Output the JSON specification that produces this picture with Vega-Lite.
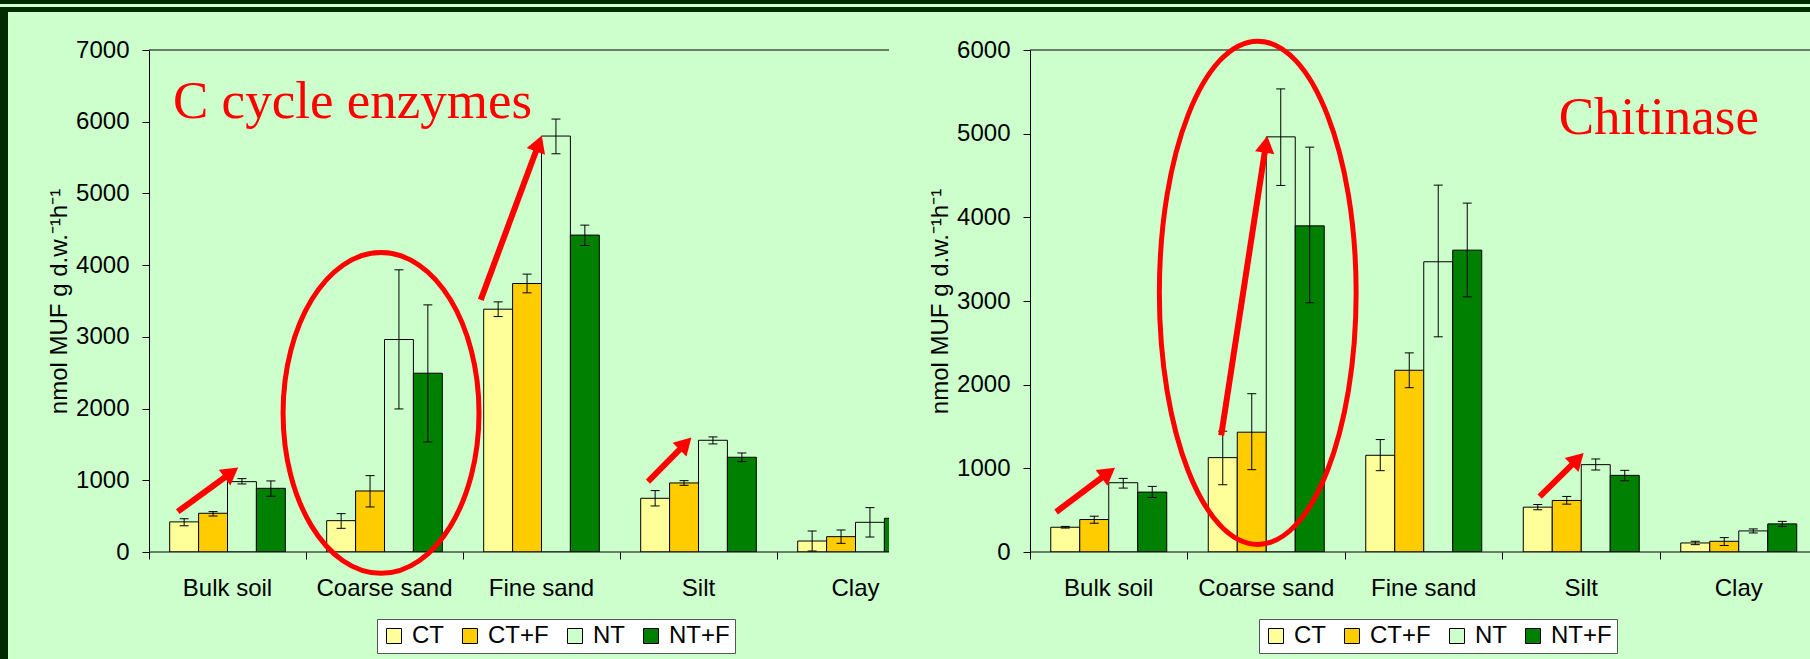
{
  "$schema": "https://vega.github.io/schema/vega-lite/v6.json",
  "background": "#CCFFCC",
  "padding": 0,
  "autosize": {"type": "pad"},
  "config": {
    "view": {"stroke": null},
    "axis": {"labelFont": "Liberation Sans", "titleFont": "Liberation Sans", "labelColor": "#000000", "titleColor": "#000000", "domainColor": "#000000", "tickColor": "#000000", "domainWidth": 1, "tickWidth": 1, "grid": false},
    "legend": {"labelFont": "Liberation Sans", "labelColor": "#000000"}
  },
  "datasets": {
    "cenz": [
      {"soil": "Bulk soil", "trt": "CT", "value": 420, "lo": 367, "hi": 465},
      {"soil": "Bulk soil", "trt": "CT+F", "value": 540, "lo": 502, "hi": 563},
      {"soil": "Bulk soil", "trt": "NT", "value": 981, "lo": 949, "hi": 1023},
      {"soil": "Bulk soil", "trt": "NT+F", "value": 888, "lo": 777, "hi": 991},
      {"soil": "Coarse sand", "trt": "CT", "value": 437, "lo": 330, "hi": 535},
      {"soil": "Coarse sand", "trt": "CT+F", "value": 851, "lo": 628, "hi": 1065},
      {"soil": "Coarse sand", "trt": "NT", "value": 2963, "lo": 1995, "hi": 3935},
      {"soil": "Coarse sand", "trt": "NT+F", "value": 2493, "lo": 1535, "hi": 3446},
      {"soil": "Fine sand", "trt": "CT", "value": 3386, "lo": 3283, "hi": 3488},
      {"soil": "Fine sand", "trt": "CT+F", "value": 3744, "lo": 3614, "hi": 3875},
      {"soil": "Fine sand", "trt": "NT", "value": 5800, "lo": 5553, "hi": 6037},
      {"soil": "Fine sand", "trt": "NT+F", "value": 4419, "lo": 4274, "hi": 4558},
      {"soil": "Silt", "trt": "CT", "value": 749, "lo": 642, "hi": 856},
      {"soil": "Silt", "trt": "CT+F", "value": 963, "lo": 930, "hi": 995},
      {"soil": "Silt", "trt": "NT", "value": 1558, "lo": 1507, "hi": 1605},
      {"soil": "Silt", "trt": "NT+F", "value": 1321, "lo": 1260, "hi": 1381},
      {"soil": "Clay", "trt": "CT", "value": 153, "lo": 14, "hi": 293},
      {"soil": "Clay", "trt": "CT+F", "value": 214, "lo": 121, "hi": 307},
      {"soil": "Clay", "trt": "NT", "value": 414, "lo": 209, "hi": 619},
      {"soil": "Clay", "trt": "NT+F", "value": 470, "lo": 410, "hi": 530}
    ],
    "chit": [
      {"soil": "Bulk soil", "trt": "CT", "value": 296, "lo": 286, "hi": 306},
      {"soil": "Bulk soil", "trt": "CT+F", "value": 388, "lo": 344, "hi": 428},
      {"soil": "Bulk soil", "trt": "NT", "value": 828, "lo": 764, "hi": 880},
      {"soil": "Bulk soil", "trt": "NT+F", "value": 716, "lo": 652, "hi": 784},
      {"soil": "Coarse sand", "trt": "CT", "value": 1128, "lo": 804, "hi": 1444},
      {"soil": "Coarse sand", "trt": "CT+F", "value": 1432, "lo": 984, "hi": 1892},
      {"soil": "Coarse sand", "trt": "NT", "value": 4962, "lo": 4381, "hi": 5535},
      {"soil": "Coarse sand", "trt": "NT+F", "value": 3898, "lo": 2979, "hi": 4839},
      {"soil": "Fine sand", "trt": "CT", "value": 1156, "lo": 972, "hi": 1344},
      {"soil": "Fine sand", "trt": "CT+F", "value": 2172, "lo": 1964, "hi": 2380},
      {"soil": "Fine sand", "trt": "NT", "value": 3469, "lo": 2572, "hi": 4385},
      {"soil": "Fine sand", "trt": "NT+F", "value": 3608, "lo": 3050, "hi": 4170},
      {"soil": "Silt", "trt": "CT", "value": 536, "lo": 504, "hi": 568},
      {"soil": "Silt", "trt": "CT+F", "value": 616, "lo": 572, "hi": 664},
      {"soil": "Silt", "trt": "NT", "value": 1044, "lo": 980, "hi": 1112},
      {"soil": "Silt", "trt": "NT+F", "value": 916, "lo": 852, "hi": 976},
      {"soil": "Clay", "trt": "CT", "value": 108, "lo": 88, "hi": 128},
      {"soil": "Clay", "trt": "CT+F", "value": 128, "lo": 78, "hi": 172},
      {"soil": "Clay", "trt": "NT", "value": 252, "lo": 228, "hi": 276},
      {"soil": "Clay", "trt": "NT+F", "value": 336, "lo": 306, "hi": 366}
    ],
    "cenzArrows": [
      {"x1": 0.183, "y1": 562, "x2": 0.525, "y2": 1108, "angle": 53.9},
      {"x1": 2.113, "y1": 3516, "x2": 2.483, "y2": 5697, "angle": 20.4},
      {"x1": 3.178, "y1": 981, "x2": 3.417, "y2": 1512, "angle": 44.6}
    ],
    "chitArrows": [
      {"x1": 0.166, "y1": 478, "x2": 0.497, "y2": 947, "angle": 53},
      {"x1": 1.214, "y1": 1394, "x2": 1.498, "y2": 4872, "angle": 8.7},
      {"x1": 3.236, "y1": 661, "x2": 3.477, "y2": 1111, "angle": 45.2}
    ],
    "cenzEllipse": [{"x": 1.478, "y": 1939}],
    "chitEllipse": [{"x": 1.446, "y": 3098}],
    "cenzText": [{"label": "C cycle enzymes", "x": 0.153, "y": 6056}],
    "chitText": [{"label": "Chitinase", "x": 3.357, "y": 4992}]
  },
  "spacing": 0,
  "bounds": "flush",
  "vconcat": [
    {"width": 1810, "height": 4, "data": {"values": []}, "mark": {"type": "rule"}, "encoding": {}, "view": {"fill": "#002A00", "stroke": null}},
    {"width": 1810, "height": 3, "data": {"values": []}, "mark": {"type": "rule"}, "encoding": {}, "view": {"stroke": null}},
    {"width": 1810, "height": 5, "data": {"values": []}, "mark": {"type": "rule"}, "encoding": {}, "view": {"fill": "#002A00", "stroke": null}},
    {"width": 8, "height": 38, "data": {"values": []}, "mark": {"type": "rule"}, "encoding": {}, "view": {"fill": "#002A00", "stroke": null}},
    {
      "spacing": 141,
      "bounds": "flush",
      "resolve": {"scale": {"x": "independent", "y": "independent", "xOffset": "independent", "color": "independent"}, "legend": {"color": "independent"}},
      "hconcat": [
        {"width": 8, "height": 609, "data": {"values": []}, "mark": {"type": "rule"}, "encoding": {}, "view": {"fill": "#002A00", "stroke": null}},
        {
          "width": 740,
          "height": 502,
          "resolve": {"scale": {"x": "independent"}},
          "layer": [
            {
              "data": {"name": "cenz"},
              "layer": [
                {
                  "mark": {"type": "bar", "stroke": "#000000", "strokeWidth": 1, "clip": true},
                  "encoding": {
                    "x": {"field": "soil", "type": "nominal",
                      "scale": {"domain": ["Bulk soil", "Coarse sand", "Fine sand", "Silt", "Clay"], "range": [0, 785], "paddingInner": 0, "paddingOuter": 0},
                      "axis": {"title": null, "domain": false, "ticks": true, "tickSize": 7, "bandPosition": 0, "labelPadding": 17, "labelAngle": 0, "labelFontSize": 24}},
                    "xOffset": {"field": "trt", "type": "nominal", "scale": {"domain": ["CT", "CT+F", "NT", "NT+F"], "paddingInner": 0, "paddingOuter": 0.716}},
                    "y": {"field": "value", "type": "quantitative", "scale": {"domain": [0, 7000], "nice": false},
                      "axis": {"title": "nmol MUF g d.w.⁻¹h⁻¹", "format": "d", "values": [0, 1000, 2000, 3000, 4000, 5000, 6000, 7000], "tickSize": 7, "labelPadding": 13, "titlePadding": 4, "labelFontSize": 24, "titleFontSize": 24, "titleFontWeight": "normal"}},
                    "color": {"field": "trt", "type": "nominal",
                      "scale": {"domain": ["CT", "CT+F", "NT", "NT+F"], "range": ["#FFFF99", "#FFCC00", "#CCFFCC", "#008000"]},
                      "legend": {"title": null, "orient": "none", "legendX": 228, "legendY": 569, "direction": "horizontal", "symbolType": "square", "symbolSize": 225, "symbolStrokeColor": "#000000", "symbolStrokeWidth": 1, "symbolOpacity": 1, "labelFontSize": 24, "labelOffset": 6, "columnPadding": 14, "padding": 5, "fillColor": "#FFFFFF", "strokeColor": "#555555", "labelLimit": 0}}
                  }
                },
                {
                  "mark": {"type": "rule", "color": "#000000", "strokeWidth": 1, "clip": true},
                  "encoding": {
                    "x": {"field": "soil", "type": "nominal"},
                    "xOffset": {"field": "trt", "type": "nominal"},
                    "y": {"field": "lo", "type": "quantitative"},
                    "y2": {"field": "hi"}
                  }
                },
                {
                  "mark": {"type": "tick", "color": "#000000", "thickness": 1, "size": 9, "clip": true, "opacity": 1},
                  "encoding": {
                    "x": {"field": "soil", "type": "nominal"},
                    "xOffset": {"field": "trt", "type": "nominal"},
                    "y": {"field": "lo", "type": "quantitative"}
                  }
                },
                {
                  "mark": {"type": "tick", "color": "#000000", "thickness": 1, "size": 9, "clip": true, "opacity": 1},
                  "encoding": {
                    "x": {"field": "soil", "type": "nominal"},
                    "xOffset": {"field": "trt", "type": "nominal"},
                    "y": {"field": "hi", "type": "quantitative"}
                  }
                },
                {
                  "data": {"values": [{"v": 7000}, {"v": 0}]},
                  "mark": {"type": "rule", "color": "#000000", "strokeWidth": 1},
                  "encoding": {"y": {"field": "v", "type": "quantitative"}}
                }
              ]
            },
            {
              "layer": [
                {
                  "data": {"name": "cenzEllipse"},
                  "mark": {"type": "point", "shape": "M 0.611 0 C 0.611 0.5523 0.3375 1 0 1 C -0.3375 1 -0.611 0.5523 -0.611 0 C -0.611 -0.5523 -0.3375 -1 0 -1 C 0.3375 -1 0.611 -0.5523 0.611 0 Z", "size": 102848, "filled": false, "color": "#FF0000", "strokeWidth": 5, "opacity": 1},
                  "encoding": {
                    "x": {"field": "x", "type": "quantitative", "scale": {"domain": [0, 5], "range": [0, 785], "nice": false, "zero": false}, "axis": null},
                    "y": {"field": "y", "type": "quantitative"}
                  }
                },
                {
                  "data": {"name": "cenzArrows"},
                  "mark": {"type": "rule", "color": "#FF0000", "strokeWidth": 6},
                  "encoding": {
                    "x": {"field": "x1", "type": "quantitative", "scale": {"domain": [0, 5], "range": [0, 785], "nice": false, "zero": false}, "axis": null},
                    "x2": {"field": "x2"},
                    "y": {"field": "y1", "type": "quantitative"},
                    "y2": {"field": "y2"}
                  }
                },
                {
                  "data": {"name": "cenzArrows"},
                  "mark": {"type": "point", "shape": "triangle-up", "size": 380, "filled": true, "color": "#FF0000", "opacity": 1},
                  "encoding": {
                    "x": {"field": "x2", "type": "quantitative", "scale": {"domain": [0, 5], "range": [0, 785], "nice": false, "zero": false}, "axis": null},
                    "y": {"field": "y2", "type": "quantitative"},
                    "angle": {"field": "angle", "type": "quantitative", "scale": null}
                  }
                },
                {
                  "data": {"name": "cenzText"},
                  "mark": {"type": "text", "font": "Liberation Serif", "fontSize": 53, "color": "#FF0000", "align": "left", "baseline": "alphabetic"},
                  "encoding": {
                    "x": {"field": "x", "type": "quantitative", "scale": {"domain": [0, 5], "range": [0, 785], "nice": false, "zero": false}, "axis": null},
                    "y": {"field": "y", "type": "quantitative"},
                    "text": {"field": "label"}
                  }
                }
              ]
            }
          ]
        },
        {
          "width": 780,
          "height": 502,
          "resolve": {"scale": {"x": "independent"}},
          "layer": [
            {
              "data": {"name": "chit"},
              "layer": [
                {
                  "mark": {"type": "bar", "stroke": "#000000", "strokeWidth": 1, "clip": true},
                  "encoding": {
                    "x": {"field": "soil", "type": "nominal",
                      "scale": {"domain": ["Bulk soil", "Coarse sand", "Fine sand", "Silt", "Clay"], "range": [0, 787.5], "paddingInner": 0, "paddingOuter": 0},
                      "axis": {"title": null, "domain": false, "ticks": true, "tickSize": 7, "bandPosition": 0, "labelPadding": 17, "labelAngle": 0, "labelFontSize": 24}},
                    "xOffset": {"field": "trt", "type": "nominal", "scale": {"domain": ["CT", "CT+F", "NT", "NT+F"], "paddingInner": 0, "paddingOuter": 0.716}},
                    "y": {"field": "value", "type": "quantitative", "scale": {"domain": [0, 6000], "nice": false},
                      "axis": {"title": "nmol MUF g d.w.⁻¹h⁻¹", "format": "d", "values": [0, 1000, 2000, 3000, 4000, 5000, 6000], "tickSize": 7, "labelPadding": 13, "titlePadding": 4, "labelFontSize": 24, "titleFontSize": 24, "titleFontWeight": "normal"}},
                    "color": {"field": "trt", "type": "nominal",
                      "scale": {"domain": ["CT", "CT+F", "NT", "NT+F"], "range": ["#FFFF99", "#FFCC00", "#CCFFCC", "#008000"]},
                      "legend": {"title": null, "orient": "none", "legendX": 229, "legendY": 569, "direction": "horizontal", "symbolType": "square", "symbolSize": 225, "symbolStrokeColor": "#000000", "symbolStrokeWidth": 1, "symbolOpacity": 1, "labelFontSize": 24, "labelOffset": 6, "columnPadding": 14, "padding": 5, "fillColor": "#FFFFFF", "strokeColor": "#555555", "labelLimit": 0}}
                  }
                },
                {
                  "mark": {"type": "rule", "color": "#000000", "strokeWidth": 1, "clip": true},
                  "encoding": {
                    "x": {"field": "soil", "type": "nominal"},
                    "xOffset": {"field": "trt", "type": "nominal"},
                    "y": {"field": "lo", "type": "quantitative"},
                    "y2": {"field": "hi"}
                  }
                },
                {
                  "mark": {"type": "tick", "color": "#000000", "thickness": 1, "size": 9, "clip": true, "opacity": 1},
                  "encoding": {
                    "x": {"field": "soil", "type": "nominal"},
                    "xOffset": {"field": "trt", "type": "nominal"},
                    "y": {"field": "lo", "type": "quantitative"}
                  }
                },
                {
                  "mark": {"type": "tick", "color": "#000000", "thickness": 1, "size": 9, "clip": true, "opacity": 1},
                  "encoding": {
                    "x": {"field": "soil", "type": "nominal"},
                    "xOffset": {"field": "trt", "type": "nominal"},
                    "y": {"field": "hi", "type": "quantitative"}
                  }
                },
                {
                  "data": {"values": [{"v": 6000}, {"v": 0}]},
                  "mark": {"type": "rule", "color": "#000000", "strokeWidth": 1},
                  "encoding": {"y": {"field": "v", "type": "quantitative"}}
                }
              ]
            },
            {
              "layer": [
                {
                  "data": {"name": "chitEllipse"},
                  "mark": {"type": "point", "shape": "M 0.391 0 C 0.391 0.5523 0.2159 1 0 1 C -0.2159 1 -0.391 0.5523 -0.391 0 C -0.391 -0.5523 -0.2159 -1 0 -1 C 0.2159 -1 0.391 -0.5523 0.391 0 Z", "size": 253311, "filled": false, "color": "#FF0000", "strokeWidth": 5, "opacity": 1},
                  "encoding": {
                    "x": {"field": "x", "type": "quantitative", "scale": {"domain": [0, 5], "range": [0, 787.5], "nice": false, "zero": false}, "axis": null},
                    "y": {"field": "y", "type": "quantitative"}
                  }
                },
                {
                  "data": {"name": "chitArrows"},
                  "mark": {"type": "rule", "color": "#FF0000", "strokeWidth": 6},
                  "encoding": {
                    "x": {"field": "x1", "type": "quantitative", "scale": {"domain": [0, 5], "range": [0, 787.5], "nice": false, "zero": false}, "axis": null},
                    "x2": {"field": "x2"},
                    "y": {"field": "y1", "type": "quantitative"},
                    "y2": {"field": "y2"}
                  }
                },
                {
                  "data": {"name": "chitArrows"},
                  "mark": {"type": "point", "shape": "triangle-up", "size": 380, "filled": true, "color": "#FF0000", "opacity": 1},
                  "encoding": {
                    "x": {"field": "x2", "type": "quantitative", "scale": {"domain": [0, 5], "range": [0, 787.5], "nice": false, "zero": false}, "axis": null},
                    "y": {"field": "y2", "type": "quantitative"},
                    "angle": {"field": "angle", "type": "quantitative", "scale": null}
                  }
                },
                {
                  "data": {"name": "chitText"},
                  "mark": {"type": "text", "font": "Liberation Serif", "fontSize": 53, "color": "#FF0000", "align": "left", "baseline": "alphabetic"},
                  "encoding": {
                    "x": {"field": "x", "type": "quantitative", "scale": {"domain": [0, 5], "range": [0, 787.5], "nice": false, "zero": false}, "axis": null},
                    "y": {"field": "y", "type": "quantitative"},
                    "text": {"field": "label"}
                  }
                }
              ]
            }
          ]
        }
      ]
    }
  ]
}
